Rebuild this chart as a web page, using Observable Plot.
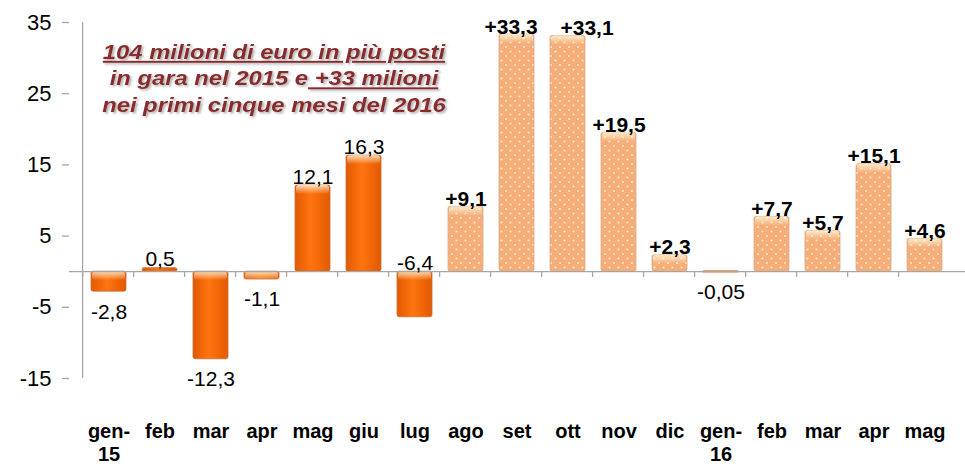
<!DOCTYPE html>
<html>
<head>
<meta charset="utf-8">
<script src="https://cdn.jsdelivr.net/npm/d3@7"></script>
<script src="https://cdn.jsdelivr.net/npm/@observablehq/plot@0.6"></script>
<style>
  html, body { margin: 0; padding: 0; background: #fff; }
  #chart svg { display: block; }
</style>
</head>
<body>
<div id="chart"></div>
<script>
// ---- data ----
const months = ["gen-\n15","feb","mar","apr","mag","giu","lug","ago","set","ott","nov","dic","gen-\n16","feb ","mar ","apr ","mag "];
const values = [-2.8, 0.5, -12.3, -1.1, 12.1, 16.3, -6.4, 9.1, 33.3, 33.1, 19.5, 2.3, -0.05, 7.7, 5.7, 15.1, 4.6];
const valueLabels = ["-2,8","0,5","-12,3","-1,1","12,1","16,3","-6,4","+9,1","+33,3","+33,1","+19,5","+2,3","-0,05","+7,7","+5,7","+15,1","+4,6"];
// first seven months drawn solid orange, later months dotted peach
const solidMonths = ["gen-\n15","feb","mar","apr","mag","giu","lug","gen-\n16"];
const labelAtZero = ["lug"];
const nudgeLeft = ["set"];
const nudgeRight = ["ott"];
const yTicks = [35, 25, 15, 5, -5, -15];
const titleLines = [
  [["104 milioni di euro in più posti", true]],
  [["in gara nel 2015 e", false], [" +33 milioni", true]],
  [["nei primi cinque mesi del 2016", false]]
];

const data = months.map((m, i) => ({month: m, value: values[i], label: valueLabels[i]}));

const FONT = "Liberation Sans, Arial, sans-serif";
const above = d => d.value >= 0 || labelAtZero.includes(d.month);
const boldAbove = d => above(d) && d.label.startsWith("+");
const nudged = d => nudgeLeft.includes(d.month) || nudgeRight.includes(d.month);
const boldText = (filter, dx) => Plot.text(data, {
  x: "month", y: d => labelAtZero.includes(d.month) ? 0 : d.value,
  text: "label", lineAnchor: "bottom", fontSize: 21, fontWeight: "bold", fill: "#000",
  filter, dy: -1, dx
});

const plot = Plot.plot({
  width: 965,
  height: 466,
  marginLeft: 69,
  marginRight: 0,
  marginTop: 22,
  marginBottom: 88,
  style: {fontFamily: FONT, color: "#000", background: "#fff"},
  x: {domain: months, padding: 0.31, label: null},
  y: {domain: [-15, 35], label: null},
  marks: [
    Plot.barY(data, {
      x: "month", y: "value",
      fill: d => solidMonths.includes(d.month) ? "url(#orangeGrad)" : "url(#dots)",
      stroke: d => d.month === "gen-\n16" ? "#f07a30" : solidMonths.includes(d.month) ? "#c8703a" : "#d9a985",
      strokeWidth: d => d.month === "gen-\n16" ? 2 : 0.8,
      rx: 2
    }),
    // soft highlight at the top of each bar
    Plot.barY(data.filter(d => Math.abs(d.value) > 1), {
      x: "month", y1: d => Math.max(d.value, 0), y2: d => Math.max(d.value, 0),
      insetBottom: -9, insetLeft: 1, insetRight: 1,
      fill: "url(#topHi)", rx: 3
    }),
    Plot.ruleY([0], {stroke: "#a6a6a6", strokeWidth: 1.3}),
    Plot.ruleX(months, {x: d => d, y1: 0, y2: -0.8, dx: -26.4, stroke: "#a6a6a6", strokeWidth: 1.3}),
    Plot.ruleX([months[0]], {x: d => d, y1: -15, y2: 35, dx: -26.4, stroke: "#a6a6a6", strokeWidth: 1.3}),
    Plot.axisY({ticks: yTicks, tickSize: 7, tickPadding: 11, fontSize: 22, stroke: "#a6a6a6", strokeWidth: 1.3, tickFormat: d => d}),
    Plot.axisX({tickSize: 0, tickPadding: 43, fontSize: 20, fontWeight: "bold", lineHeight: 1.15, tickFormat: d => d.trim()}),
    // labels above bars, bold (later months)
    boldText(d => boldAbove(d) && !nudged(d), 0),
    boldText(d => boldAbove(d) && nudgeLeft.includes(d.month), -6),
    boldText(d => boldAbove(d) && nudgeRight.includes(d.month), 19),
    // labels above bars, regular
    Plot.text(data, {
      x: "month", y: d => labelAtZero.includes(d.month) ? 0 : d.value,
      text: "label", lineAnchor: "bottom", fontSize: 21, fill: "#000",
      filter: d => above(d) && !d.label.startsWith("+"), dy: -2
    }),
    // labels below negative bars
    Plot.text(data, {
      x: "month", y: "value",
      text: "label", lineAnchor: "top", fontSize: 21, fill: "#000",
      filter: d => !above(d), dy: 12
    })
  ]
});

document.getElementById("chart").appendChild(plot);

const svg = d3.select(plot);
const defs = svg.insert("defs", ":first-child");
const g = defs.append("linearGradient").attr("id", "orangeGrad").attr("x1", 0).attr("x2", 1).attr("y1", 0).attr("y2", 0);
g.append("stop").attr("offset", "0%").attr("stop-color", "#e25a00");
g.append("stop").attr("offset", "45%").attr("stop-color", "#ff7410");
g.append("stop").attr("offset", "100%").attr("stop-color", "#e25a00");
const h = defs.append("linearGradient").attr("id", "topHi").attr("x1", 0).attr("x2", 0).attr("y1", 0).attr("y2", 1);
h.append("stop").attr("offset", "0%").attr("stop-color", "#fff4d8").attr("stop-opacity", 0.85);
h.append("stop").attr("offset", "100%").attr("stop-color", "#fff4d8").attr("stop-opacity", 0);
const p = defs.append("pattern").attr("id", "dots").attr("patternUnits", "userSpaceOnUse").attr("width", 9).attr("height", 9);
p.append("rect").attr("width", 9).attr("height", 9).attr("fill", "#f6ae78");
p.append("circle").attr("cx", 2).attr("cy", 2).attr("r", 1.1).attr("fill", "#fde6d4");
p.append("circle").attr("cx", 6.5).attr("cy", 6.5).attr("r", 1.1).attr("fill", "#fde6d4");
const f = defs.append("filter").attr("id", "shadow").attr("x", "-5%").attr("y", "-20%").attr("width", "110%").attr("height", "140%");
f.append("feDropShadow").attr("dx", 1.5).attr("dy", 1.5).attr("stdDeviation", 0.8).attr("flood-color", "#999").attr("flood-opacity", 0.8);

// annotation (horizontally widened like the reference)
const ann = svg.append("g").attr("filter", "url(#shadow)")
  .attr("transform", "translate(274,0) scale(1.19,1) translate(-274,0)");
titleLines.forEach((parts, i) => {
  const t = ann.append("text")
    .attr("x", 274).attr("y", 59 + i * 26.5)
    .attr("text-anchor", "middle")
    .attr("font-family", FONT)
    .attr("font-size", 20)
    .attr("font-weight", "bold")
    .attr("font-style", "italic")
    .attr("fill", "#8b2b2b");
  parts.forEach(([s, u]) => {
    t.append("tspan").attr("text-decoration", u ? "underline" : null).style("white-space", "pre").text(s);
  });
});
</script>
</body>
</html>
